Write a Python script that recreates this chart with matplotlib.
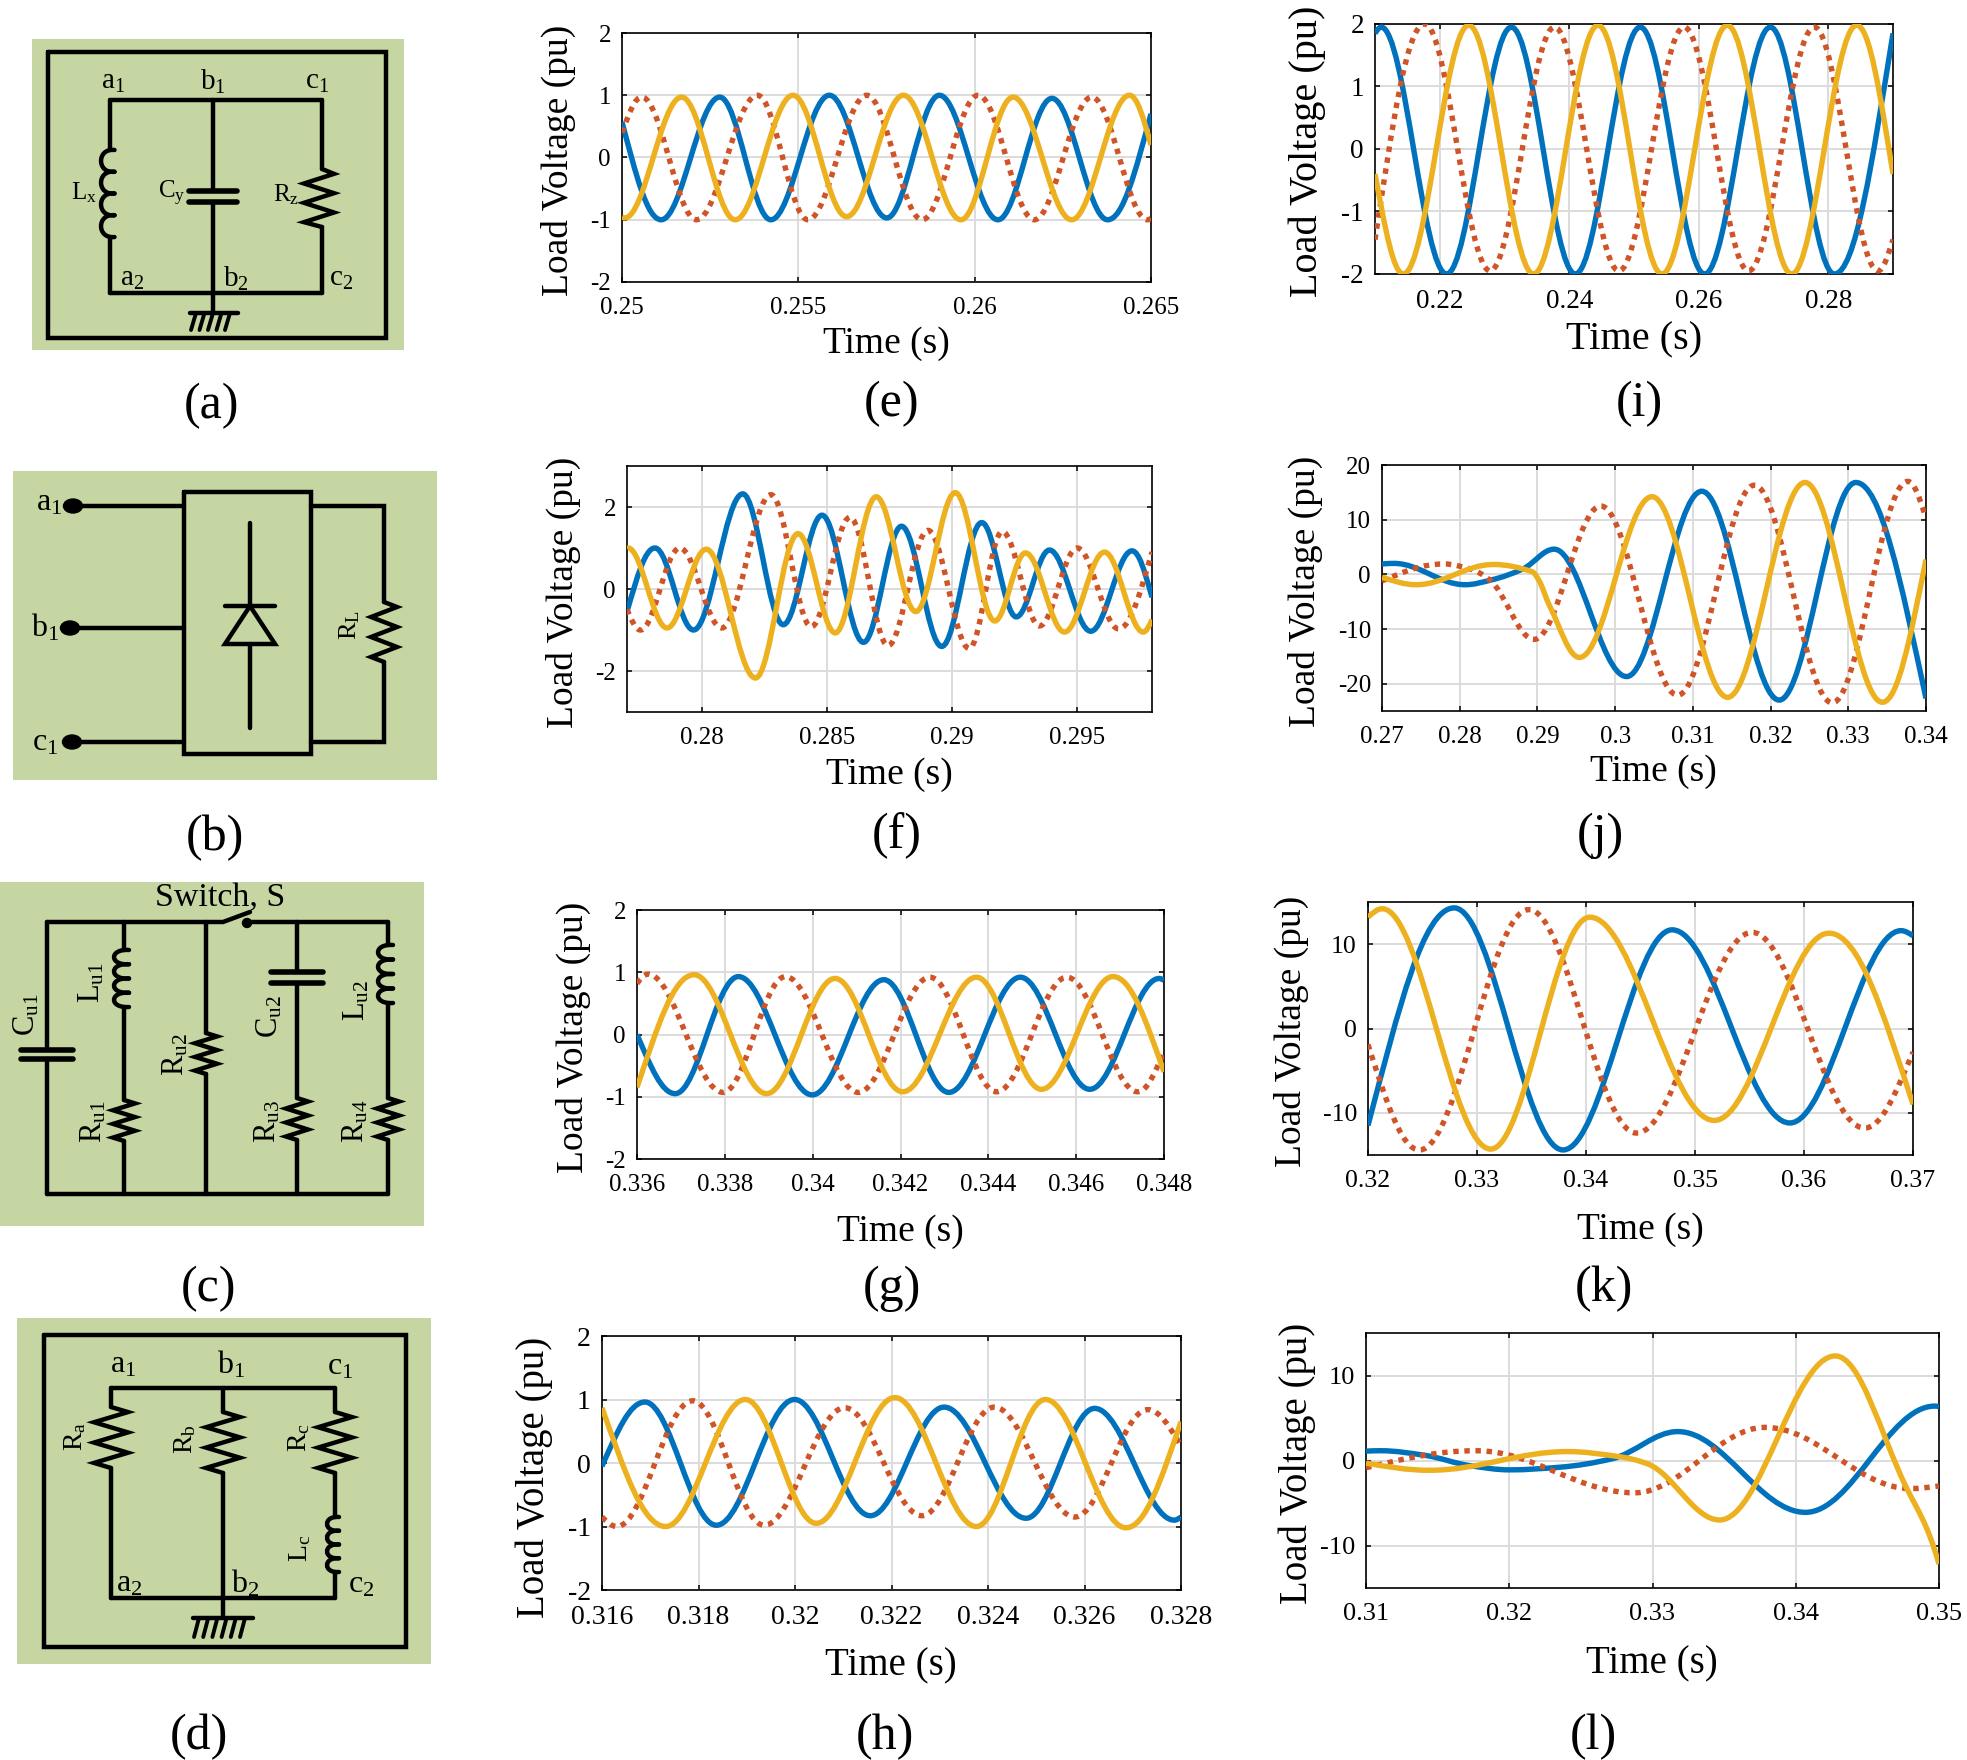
import numpy as np
import matplotlib
matplotlib.use('Agg')
import matplotlib.pyplot as plt
from matplotlib.path import Path
from matplotlib.patches import PathPatch, Rectangle, Ellipse

plt.rcParams['font.family'] = ['Liberation Serif', 'DejaVu Serif']
plt.rcParams['mathtext.fontset'] = 'custom'
plt.rcParams['mathtext.rm'] = 'Liberation Serif'

W, H = 1967, 1760
BLUE = '#0072BD'
RED = '#CF5528'
YELLOW = '#EDB120'
GREEN = '#C5D6A2'

# values: extrema plus a few shoulder points, time in s, voltage in pu
e_blue_t = [0.25, 0.25111, 0.25277, 0.25422, 0.25588, 0.25751, 0.259, 0.26066, 0.26219, 0.26377, 0.265]
e_blue_y = [0.57, -1.0, 0.97, -1.0, 1.0, -0.97, 1.0, -1.0, 0.95, -1.0, 0.7]
e_red_t = [0.25, 0.25056, 0.25211, 0.25384, 0.25527, 0.25694, 0.25851, 0.2601, 0.26169, 0.26332, 0.2649, 0.265]
e_red_y = [0.4, 0.97, -1.0, 1.0, -1.0, 1.0, -1.0, 1.0, -1.0, 0.97, -1.0, -0.98]
e_yellow_t = [0.25, 0.25008, 0.25169, 0.25321, 0.25485, 0.25637, 0.25798, 0.25961, 0.26109, 0.26275, 0.26439, 0.265]
e_yellow_y = [-0.96, -0.97, 0.97, -1.0, 1.0, -0.95, 1.0, -1.0, 0.97, -1.0, 1.0, 0.2]

f_blue_t = [0.277, 0.27812, 0.27966, 0.28163, 0.28325, 0.2848, 0.28646, 0.28798, 0.28959, 0.29119, 0.29257, 0.2939, 0.29555, 0.2972, 0.298]
f_blue_y = [-0.55, 1.0, -1.0, 2.32, -0.87, 1.8, -1.3, 1.53, -1.4, 1.62, -0.68, 0.95, -1.03, 0.93, -0.2]
f_red_t = [0.277, 0.27754, 0.27911, 0.28079, 0.28276, 0.28437, 0.28592, 0.28744, 0.28904, 0.29069, 0.29201, 0.2935, 0.29501, 0.29666, 0.298]
f_red_y = [-0.5, -1.0, 1.0, -0.95, 2.3, -0.92, 1.75, -1.38, 1.43, -1.45, 1.4, -0.9, 1.0, -0.97, 0.9]
f_yellow_t = [0.277, 0.27704, 0.2786, 0.28017, 0.28214, 0.28384, 0.28533, 0.28697, 0.28855, 0.29013, 0.29171, 0.29294, 0.2945, 0.2961, 0.29765, 0.298]
f_yellow_y = [0.98, 1.0, -0.95, 0.97, -2.17, 1.35, -1.07, 2.25, -0.55, 2.35, -0.78, 0.88, -1.05, 0.9, -1.05, -0.75]

g_blue_t = [0.336, 0.33687, 0.33831, 0.33999, 0.34162, 0.3431, 0.34473, 0.34631, 0.34789, 0.348]
g_blue_y = [0.0, -0.95, 0.93, -0.97, 0.88, -0.93, 0.92, -0.88, 0.9, 0.87]
g_red_t = [0.336, 0.33625, 0.33796, 0.33938, 0.34104, 0.34267, 0.34419, 0.34579, 0.3474, 0.348]
g_red_y = [0.82, 0.97, -0.93, 0.93, -0.93, 0.92, -0.92, 0.92, -0.92, -0.28]
g_yellow_t = [0.336, 0.3373, 0.33895, 0.34051, 0.34205, 0.34373, 0.34521, 0.34684, 0.348]
g_yellow_y = [-0.85, 0.96, -0.95, 0.9, -0.92, 0.92, -0.88, 0.93, -0.6]

h_blue_t = [0.316, 0.31689, 0.31837, 0.31999, 0.32156, 0.32309, 0.32479, 0.32621, 0.32786, 0.328]
h_blue_y = [-0.05, 0.96, -0.98, 1.0, -0.83, 0.88, -0.87, 0.86, -0.9, -0.85]
h_red_t = [0.316, 0.31631, 0.31788, 0.31936, 0.32103, 0.32263, 0.32413, 0.3258, 0.32731, 0.328]
h_red_y = [-0.85, -1.0, 0.98, -0.98, 0.87, -0.83, 0.88, -0.85, 0.84, 0.27]
h_yellow_t = [0.316, 0.31732, 0.31897, 0.32044, 0.32207, 0.32376, 0.32519, 0.32686, 0.328]
h_yellow_y = [0.87, -1.0, 1.0, -0.95, 1.03, -1.0, 1.0, -1.02, 0.65]

i_blue_t = [0.21, 0.21096, 0.22105, 0.23106, 0.24094, 0.25096, 0.26091, 0.27106, 0.28094, 0.29]
i_blue_y = [1.85, 1.95, -2.0, 1.95, -2.0, 1.95, -2.0, 1.95, -2.0, 1.85]
i_red_t = [0.21, 0.21768, 0.22777, 0.23772, 0.24767, 0.25775, 0.2677, 0.27786, 0.28767, 0.29]
i_red_y = [-1.45, 2.0, -1.95, 1.95, -1.95, 1.95, -1.95, 1.95, -1.95, -1.45]
i_yellow_t = [0.21, 0.21439, 0.22448, 0.23449, 0.24444, 0.25432, 0.26441, 0.27436, 0.28438, 0.29]
i_yellow_y = [-0.4, -2.0, 1.98, -2.0, 1.98, -2.0, 1.98, -2.0, 1.98, -0.4]

j_blue_t = [0.27, 0.27155, 0.2807, 0.28414, 0.28814, 0.29215, 0.30148, 0.31115, 0.32111, 0.33096, 0.34]
j_blue_y = [1.9, 2.0, -1.9, -1.0, 1.0, 4.6, -18.7, 15.2, -23.0, 16.8, -22.7]
j_red_t = [0.27, 0.27796, 0.28128, 0.28385, 0.28958, 0.29816, 0.30806, 0.31791, 0.32793, 0.33766, 0.34]
j_red_y = [-1.2, 1.9, 1.0, -1.0, -11.9, 12.5, -22.1, 16.3, -23.5, 17.0, 10.3]
j_yellow_t = [0.27, 0.27441, 0.28431, 0.28929, 0.29015, 0.29158, 0.29541, 0.30474, 0.31447, 0.32443, 0.33439, 0.34]
j_yellow_y = [-0.5, -1.9, 1.8, 0.5, -1.0, -5.8, -15.2, 14.2, -22.5, 16.8, -23.4, 2.7]

k_blue_t = [0.32, 0.32791, 0.3379, 0.3479, 0.3587, 0.3689, 0.37]
k_blue_y = [-11.5, 14.3, -14.4, 11.7, -11.2, 11.6, 11.0]
k_red_t = [0.32, 0.32473, 0.33476, 0.34463, 0.35524, 0.36555, 0.37]
k_red_y = [-1.9, -14.4, 14.1, -12.4, 11.4, -11.8, -2.8]
k_yellow_t = [0.32, 0.32131, 0.33126, 0.34035, 0.35177, 0.36229, 0.37]
k_yellow_y = [13.2, 14.2, -14.3, 13.2, -10.9, 11.3, -9.0]

l_blue_t = [0.31, 0.31102, 0.31413, 0.31724, 0.32003, 0.32345, 0.32717, 0.33177, 0.34068, 0.3497, 0.35]
l_blue_y = [1.1, 1.15, 0.6, -0.6, -1.1, -0.8, 0.2, 3.4, -6.1, 6.4, 6.35]
l_red_t = [0.31, 0.3177, 0.32873, 0.33789, 0.34798, 0.35]
l_red_y = [-0.85, 1.15, -3.8, 3.9, -3.3, -3.0]
l_yellow_t = [0.31, 0.31444, 0.32407, 0.32748, 0.32966, 0.33469, 0.34276, 0.34767, 0.35]
l_yellow_y = [-0.3, -1.15, 1.05, 0.5, -0.4, -7.0, 12.3, -3.0, -12.2]

e_xticks = [0.25, 0.255, 0.26, 0.265]
e_xlabels = ['0.25', '0.255', '0.26', '0.265']
f_xticks = [0.28, 0.285, 0.29, 0.295]
f_xlabels = ['0.28', '0.285', '0.29', '0.295']
g_xticks = [0.336, 0.338, 0.34, 0.342, 0.344, 0.346, 0.348]
g_xlabels = ['0.336', '0.338', '0.34', '0.342', '0.344', '0.346', '0.348']
h_xticks = [0.316, 0.318, 0.32, 0.322, 0.324, 0.326, 0.328]
h_xlabels = ['0.316', '0.318', '0.32', '0.322', '0.324', '0.326', '0.328']
i_xticks = [0.22, 0.24, 0.26, 0.28]
i_xlabels = ['0.22', '0.24', '0.26', '0.28']
j_xticks = [0.27, 0.28, 0.29, 0.3, 0.31, 0.32, 0.33, 0.34]
j_xlabels = ['0.27', '0.28', '0.29', '0.3', '0.31', '0.32', '0.33', '0.34']
k_xticks = [0.32, 0.33, 0.34, 0.35, 0.36, 0.37]
k_xlabels = ['0.32', '0.33', '0.34', '0.35', '0.36', '0.37']
l_xticks = [0.31, 0.32, 0.33, 0.34, 0.35]
l_xlabels = ['0.31', '0.32', '0.33', '0.34', '0.35']

pu2_ticks = [-2, -1, 0, 1, 2]
pu3_ticks = [-2, 0, 2]
j_yticks = [-20, -10, 0, 10, 20]
pu15_ticks = [-10, 0, 10]


def smooth_line(ax, t, y, color, dotted=False):
    # read points joined with bezier segments, flat tangent at each extremum
    t = np.array(t)
    y = np.array(y)
    chord = np.diff(y) / np.diff(t)
    m = np.zeros(len(t))
    for n in range(1, len(t) - 1):
        if chord[n - 1] * chord[n] > 0:
            m[n] = 2 * chord[n - 1] * chord[n] / (chord[n - 1] + chord[n])
    m[0] = 1.5 * chord[0]
    m[-1] = 1.5 * chord[-1]
    verts = [(t[0], y[0])]
    codes = [Path.MOVETO]
    for n in range(len(t) - 1):
        d = 0.36 * (t[n + 1] - t[n])
        verts += [(t[n] + d, y[n] + m[n] * d), (t[n + 1] - d, y[n + 1] - m[n + 1] * d), (t[n + 1], y[n + 1])]
        codes += [Path.CURVE4] * 3
    ls = (0, (1, 1.05)) if dotted else '-'
    patch = PathPatch(Path(verts, codes), fill=False, edgecolor=color, lw=3.9, ls=ls, capstyle='butt', zorder=3)
    ax.add_patch(patch)


def chart(box, xlim, ylim, xticks, xlabels, yticks, blue, red, yellow, xlab, ylab, size, tick_size=18):
    x0, y0, x1, y1 = box
    ax = fig.add_axes([x0 / W, 1 - y1 / H, (x1 - x0) / W, (y1 - y0) / H])
    smooth_line(ax, blue[0], blue[1], BLUE)
    smooth_line(ax, red[0], red[1], RED, dotted=True)
    smooth_line(ax, yellow[0], yellow[1], YELLOW)
    ax.set_xlim(xlim)
    ax.set_ylim(ylim)
    ax.set_xticks(xticks)
    ax.set_xticklabels(xlabels)
    ax.set_yticks(yticks)
    ax.set_yticklabels([str(v) for v in yticks])
    ax.grid(True, color='#dcdcdc', lw=1.4)
    ax.set_axisbelow(True)
    ax.tick_params(direction='in', top=True, right=True, length=3.6, width=1.1, labelsize=tick_size)
    ax.tick_params(axis='x', pad=10.5)
    ax.tick_params(axis='y', pad=8)
    for s in ax.spines.values():
        s.set_linewidth(1.2)
    ax.set_xlabel('Time (s)', fontsize=size, va='center', ha='center')
    ax.set_ylabel('Load Voltage (pu)', fontsize=size, va='center', ha='center')
    ax.xaxis.set_label_coords((xlab[0] - x0) / (x1 - x0), (y1 - xlab[1]) / (y1 - y0))
    ax.yaxis.set_label_coords((ylab[0] - x0) / (x1 - x0), (y1 - ylab[1]) / (y1 - y0))
    return ax


def wire(xs, ys, lw=3.2):
    bg.plot(xs, ys, color='black', lw=lw, solid_capstyle='round', solid_joinstyle='miter')


def box(x0, y0, x1, y1):
    wire([x0, x1, x1, x0, x0], [y0, y0, y1, y1, y0])


def resistor(x, y0, y1, half, shift=0):
    d = (y1 - y0) / 6
    xs = [x]
    ys = [y0]
    for n in range(6):
        xs.append(x + shift + half if n % 2 == 0 else x + shift - half)
        ys.append(y0 + d * (n + 0.5))
    xs.append(x)
    ys.append(y1)
    wire(xs, ys)


def coil(x, y0, y1, bulge):
    # humps start a little past the wire, on the side away from the bulge
    d = (y1 - y0) / 4
    c = x - 0.5 * bulge
    reach = c + 1.33 * 1.5 * bulge
    for n in range(4):
        a = y0 + n * d
        verts = [(c, a), (reach, a - d * 0.1), (reach, a + d * 1.1), (c, a + d)]
        bg.add_patch(PathPatch(Path(verts, [Path.MOVETO, Path.CURVE4, Path.CURVE4, Path.CURVE4]), fill=False, lw=3.2, edgecolor='black', capstyle='round'))


def cap(x, y0, y1, half):
    wire([x - half, x + half], [y0, y0], lw=4.0)
    wire([x - half, x + half], [y1, y1], lw=4.0)


def ground(x, y, left, right, low, n):
    wire([x, x], [y - 20, y])
    wire([left, right], [y, y])
    for b in np.linspace(left + 6, right - 8, n):
        wire([b, b - 5], [y, low], lw=2.8)


def label(x, y, s, size, rot=0):
    bg.text(x, y, s, fontsize=size, rotation=rot, ha='center', va='center')


fig = plt.figure(figsize=(W / 100, H / 100), dpi=100)
bg = fig.add_axes([0, 0, 1, 1])
bg.set_xlim(0, W)
bg.set_ylim(H, 0)
bg.axis('off')

# circuit (a)
bg.add_patch(Rectangle((32, 39), 372, 311, color=GREEN, lw=0))
box(48, 52, 386, 338)
wire([110, 322], [100, 100])
wire([110, 213, 322], [293, 293, 293])
wire([110, 110], [100, 150])
coil(110, 150, 237, -9)
wire([110, 110], [237, 293])
wire([213, 213], [100, 191])
cap(213, 191, 202, 24)
wire([213, 213], [202, 293])
ground(213, 313, 190, 238, 330, 5)
wire([322, 322], [100, 169])
resistor(322, 169, 227, 15, -3)
wire([322, 322], [227, 293])
label(113, 82, r'$\mathrm{a_1}$', 21)
label(213, 82, r'$\mathrm{b_1}$', 21)
label(317, 82, r'$\mathrm{c_1}$', 21)
label(132, 279, r'$\mathrm{a_2}$', 21)
label(236, 279, r'$\mathrm{b_2}$', 21)
label(341, 279, r'$\mathrm{c_2}$', 21)
label(84, 193, r'$\mathrm{L_x}$', 18)
label(172, 193, r'$\mathrm{C_y}$', 18)
label(286, 195, r'$\mathrm{R_z}$', 18)

# circuit (b)
bg.add_patch(Rectangle((13, 471), 424, 309, color=GREEN, lw=0))
box(184, 492, 311, 754)
for ty, tx in [(506, 73), (628, 70), (742, 72)]:
    bg.add_patch(Ellipse((tx, ty), 19, 14, color='black'))
    wire([tx, 184], [ty, ty])
wire([311, 384, 384], [506, 506, 602])
resistor(384, 602, 662, 13)
wire([384, 384, 311], [662, 742, 742])
wire([250, 250], [523, 606])
wire([225, 275], [606, 606])
wire([250, 225, 275, 250], [606, 644, 644, 606])
wire([250, 250], [644, 728])
label(49, 503, r'$\mathrm{a_1}$', 23)
label(45, 628, r'$\mathrm{b_1}$', 23)
label(45, 743, r'$\mathrm{c_1}$', 23)
label(350, 625, r'$\mathrm{R_L}$', 19, 90)

# circuit (c)
bg.add_patch(Rectangle((0, 882), 424, 344, color=GREEN, lw=0))
wire([47, 223, 250], [922, 922, 912])
wire([247, 388], [922, 922])
bg.add_patch(Ellipse((247, 923), 9, 9, color='black'))
wire([47, 388], [1194, 1194])
wire([47, 47], [922, 1050])
cap(47, 1050, 1059, 26)
wire([47, 47], [1059, 1194])
wire([124, 124], [922, 950])
coil(124, 950, 1007, -10)
wire([124, 124], [1007, 1100])
resistor(124, 1100, 1141, 11)
wire([124, 124], [1141, 1194])
wire([206, 206], [922, 1033])
resistor(206, 1033, 1074, 11)
wire([206, 206], [1074, 1194])
wire([297, 297], [922, 972])
cap(297, 972, 983, 26)
wire([297, 297], [983, 1098])
resistor(297, 1098, 1140, 11)
wire([297, 297], [1140, 1194])
wire([388, 388], [922, 945])
coil(388, 945, 1003, -10)
wire([388, 388], [1003, 1098])
resistor(388, 1098, 1140, 11)
wire([388, 388], [1140, 1194])
label(220, 898, 'Switch, S', 24.5)
label(27, 1015, r'$\mathrm{C_{u1}}$', 22, 90)
label(92, 983, r'$\mathrm{L_{u1}}$', 22, 90)
label(94, 1122, r'$\mathrm{R_{u1}}$', 22, 90)
label(176, 1055, r'$\mathrm{R_{u2}}$', 22, 90)
label(270, 1017, r'$\mathrm{C_{u2}}$', 22, 90)
label(357, 1000, r'$\mathrm{L_{u2}}$', 22, 90)
label(268, 1121, r'$\mathrm{R_{u3}}$', 22, 90)
label(356, 1121, r'$\mathrm{R_{u4}}$', 22, 90)

# circuit (d)
bg.add_patch(Rectangle((17, 1318), 414, 346, color=GREEN, lw=0))
box(44, 1335, 406, 1647)
wire([111, 335], [1388, 1388])
wire([111, 335], [1598, 1598])
wire([111, 111], [1388, 1407])
resistor(111, 1407, 1468, 17)
wire([111, 111], [1468, 1598])
wire([223, 223], [1388, 1412])
resistor(223, 1412, 1473, 17)
wire([223, 223], [1473, 1598])
ground(223, 1618, 193, 253, 1637, 6)
wire([335, 335], [1388, 1412])
resistor(335, 1412, 1473, 17)
wire([335, 335], [1473, 1517])
coil(335, 1517, 1572, -8)
wire([335, 335], [1572, 1598])
label(123, 1365, r'$\mathrm{a_1}$', 23)
label(231, 1365, r'$\mathrm{b_1}$', 23)
label(340, 1367, r'$\mathrm{c_1}$', 23)
label(129, 1584, r'$\mathrm{a_2}$', 23)
label(245, 1584, r'$\mathrm{b_2}$', 23)
label(361, 1585, r'$\mathrm{c_2}$', 23)
label(75, 1436, r'$\mathrm{R_a}$', 20, 90)
label(185, 1439, r'$\mathrm{R_b}$', 20, 90)
label(299, 1438, r'$\mathrm{R_c}$', 20, 90)
label(300, 1548, r'$\mathrm{L_c}$', 20, 90)

# panel letters
letters = [('(a)', 211, 406), ('(b)', 215, 838), ('(c)', 208, 1289), ('(d)', 199, 1737),
           ('(e)', 892, 404), ('(f)', 897, 836), ('(g)', 892, 1289), ('(h)', 885, 1737),
           ('(i)', 1639, 404), ('(j)', 1600, 836), ('(k)', 1604, 1289), ('(l)', 1593, 1737)]
for s, x, y in letters:
    label(x, y, s, 36)

chart((622, 33, 1151, 282), (0.25, 0.265), (-2, 2), e_xticks, e_xlabels, pu2_ticks,
      (e_blue_t, e_blue_y), (e_red_t, e_red_y), (e_yellow_t, e_yellow_y), (886, 344), (558, 160), 27)
chart((627, 466, 1152, 712), (0.277, 0.298), (-3, 3), f_xticks, f_xlabels, pu3_ticks,
      (f_blue_t, f_blue_y), (f_red_t, f_red_y), (f_yellow_t, f_yellow_y), (889, 775), (563, 592), 27)
chart((637, 910, 1164, 1159), (0.336, 0.348), (-2, 2), g_xticks, g_xlabels, pu2_ticks,
      (g_blue_t, g_blue_y), (g_red_t, g_red_y), (g_yellow_t, g_yellow_y), (900, 1232), (573, 1037), 27)
chart((602, 1336, 1181, 1590), (0.316, 0.328), (-2, 2), h_xticks, h_xlabels, pu2_ticks,
      (h_blue_t, h_blue_y), (h_red_t, h_red_y), (h_yellow_t, h_yellow_y), (891, 1666), (534, 1477), 28, 20)
chart((1375, 24, 1893, 274), (0.21, 0.29), (-2, 2), i_xticks, i_xlabels, pu2_ticks,
      (i_blue_t, i_blue_y), (i_red_t, i_red_y), (i_yellow_t, i_yellow_y), (1634, 340), (1307, 151), 29, 19.5)
chart((1382, 465, 1926, 711), (0.27, 0.34), (-25, 20), j_xticks, j_xlabels, j_yticks,
      (j_blue_t, j_blue_y), (j_red_t, j_red_y), (j_yellow_t, j_yellow_y), (1653, 772), (1305, 591), 27)
chart((1368, 902, 1913, 1155), (0.32, 0.37), (-15, 15), k_xticks, k_xlabels, pu15_ticks,
      (k_blue_t, k_blue_y), (k_red_t, k_red_y), (k_yellow_t, k_yellow_y), (1640, 1230), (1291, 1031), 27, 18.5)
chart((1366, 1333, 1939, 1588), (0.31, 0.35), (-15, 15), l_xticks, l_xlabels, pu15_ticks,
      (l_blue_t, l_blue_y), (l_red_t, l_red_y), (l_yellow_t, l_yellow_y), (1652, 1664), (1297, 1463), 28, 19)

fig.savefig('out.png', dpi=100)
